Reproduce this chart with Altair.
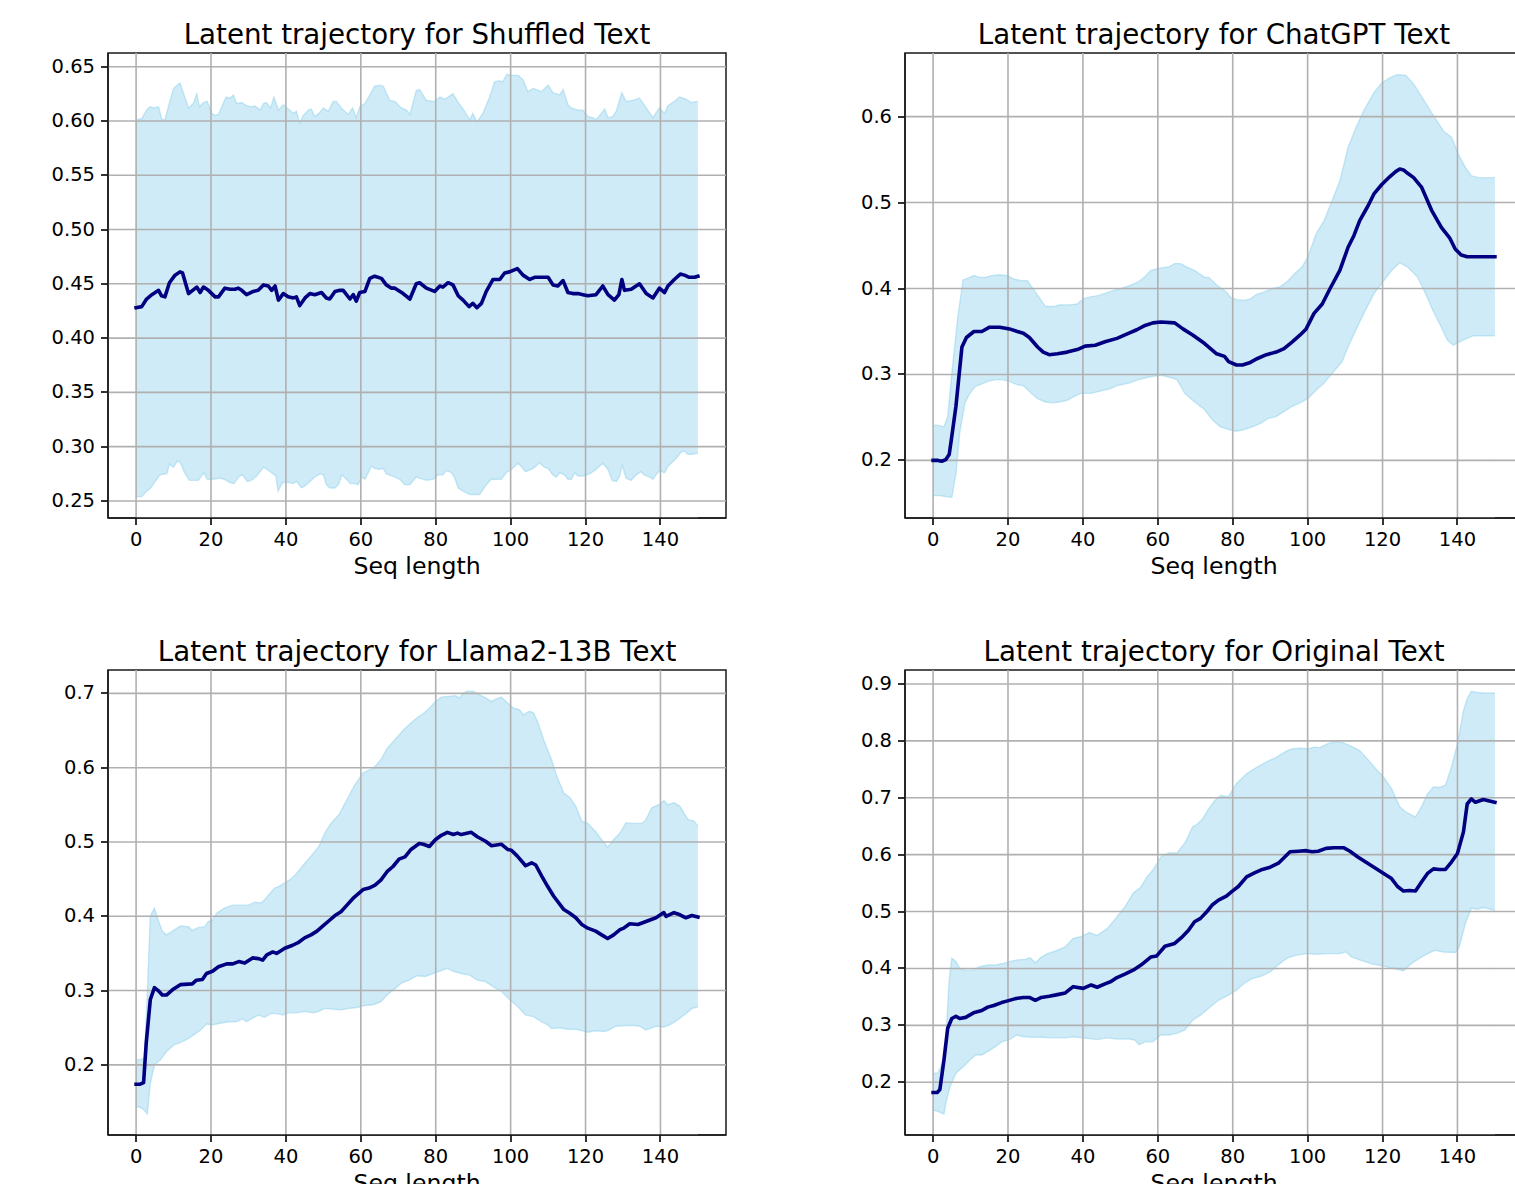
import altair as alt
import pandas as pd

# ---------------------------------------------------------------------------
# Mean latent value and its band (upper / lower) per sequence position.
# Each list holds (seq_length, value) pairs.
# ---------------------------------------------------------------------------

SHUFFLED_MEAN = [
    (0, .428), (1.5, .429), (2.8, .436), (4.2, .440), (6.0, .444), (6.8, .439), (7.7, .438),
    (8.9, .451), (10.4, .458), (11.7, .461), (12.4, .460), (14.0, .441), (16.2, .447), (17.1, .442),
    (18.0, .447), (19.3, .444), (21.1, .438), (22.0, .438), (23.7, .446), (25.1, .445), (26.4, .445),
    (27.3, .446), (28.2, .444), (29.5, .440), (31.3, .443), (32.6, .444), (34.0, .449), (35.3, .448),
    (36.2, .444), (37.1, .448), (38.0, .435), (39.3, .441), (40.6, .438), (42.0, .437), (42.8, .438),
    (43.7, .430), (45.1, .437), (46.4, .441), (47.7, .440), (49.5, .442), (50.8, .437), (51.7, .436),
    (53.1, .443), (54.4, .444), (55.3, .444), (57.1, .436), (58.0, .440), (58.8, .434), (59.7, .442),
    (61.1, .443), (62.4, .455), (63.7, .457), (65.5, .455), (66.8, .449), (68.2, .446), (69.1, .446),
    (71.3, .441), (73.1, .436), (74.8, .450), (75.7, .451), (77.5, .446), (79.7, .443), (81.1, .448),
    (81.9, .447), (83.3, .451), (84.6, .449), (86.0, .439), (87.3, .435), (88.9, .429), (89.9, .432),
    (91.0, .428), (92.2, .432), (93.5, .443), (95.3, .454), (97.1, .454), (98.4, .460), (99.7, .461),
    (101.8, .464), (103.3, .458), (105.1, .454), (106.4, .456), (108.2, .456), (110.0, .456),
    (111.3, .449), (112.6, .448), (114.0, .453), (115.3, .442), (116.6, .441), (118.0, .441),
    (119.3, .440), (120.6, .439), (122.8, .440), (124.6, .448), (126.0, .440), (127.7, .435),
    (128.9, .440), (129.7, .454), (130.4, .444), (132.2, .445), (134.4, .450), (136.2, .441),
    (138.0, .437), (139.7, .446), (141.1, .442), (142.0, .448), (143.7, .454), (145.3, .459),
    (146.4, .458), (147.7, .456), (149.1, .456), (150.0, .457),
]
SHUFFLED_UPPER = [
    (0, .601), (1.5, .602), (2.8, .610), (3.7, .613), (4.6, .612), (6.0, .613), (6.8, .602),
    (7.7, .601), (8.6, .613), (10.0, .630), (11.7, .635), (12.6, .626), (14.0, .612), (15.3, .616),
    (16.2, .625), (16.9, .613), (18.0, .617), (19.0, .618), (20.2, .607), (21.1, .605), (22.0, .606),
    (24.0, .622), (25.1, .621), (26.0, .624), (26.8, .616), (28.2, .617), (29.5, .614), (30.8, .613),
    (31.7, .614), (33.1, .610), (34.0, .616), (34.8, .617), (35.9, .612), (36.8, .622), (38.0, .610),
    (39.3, .615), (40.6, .611), (42.0, .607), (42.8, .609), (43.7, .598), (44.6, .605), (46.0, .610),
    (46.8, .611), (47.7, .604), (49.1, .608), (50.0, .612), (51.3, .609), (52.6, .618), (53.5, .618),
    (54.8, .612), (56.6, .606), (57.8, .612), (58.8, .603), (59.7, .613), (61.1, .616), (62.4, .624),
    (63.7, .632), (65.1, .633), (66.0, .632), (67.7, .619), (69.1, .618), (70.8, .612), (72.2, .610),
    (73.1, .606), (74.8, .628), (75.7, .629), (77.5, .619), (79.7, .618), (81.1, .622), (82.4, .620),
    (84.6, .625), (86.0, .617), (87.7, .609), (89.1, .601), (89.9, .607), (91.0, .599), (92.6, .607),
    (94.4, .622), (95.7, .636), (97.1, .637), (97.9, .636), (99.0, .643), (100.2, .642), (102.0, .642),
    (103.3, .638), (104.6, .627), (106.0, .630), (108.2, .627), (110.0, .633), (111.3, .626),
    (113.1, .624), (114.0, .629), (115.3, .615), (116.2, .612), (118.0, .610), (119.3, .610),
    (120.6, .604), (122.0, .603), (122.8, .601), (124.2, .607), (125.1, .611), (126.0, .603),
    (127.3, .604), (128.2, .609), (129.7, .626), (130.8, .618), (132.6, .619), (134.4, .621),
    (136.2, .612), (138.0, .603), (139.7, .612), (141.1, .607), (142.0, .614), (143.7, .618),
    (145.1, .622), (146.8, .620), (148.2, .617), (150.0, .618),
]
SHUFFLED_LOWER = [
    (0, .254), (1.5, .254), (2.8, .259), (3.9, .262), (5.1, .268), (6.4, .274), (7.7, .275),
    (8.2, .275), (8.9, .284), (10.0, .281), (11.0, .287), (11.9, .285), (12.8, .277), (14.2, .269),
    (15.5, .269), (16.6, .269), (18.1, .276), (19.0, .270), (20.6, .270), (22.4, .271), (23.5, .270),
    (25.1, .267), (26.1, .266), (27.6, .273), (28.4, .274), (29.7, .268), (30.8, .269), (32.2, .273),
    (34.0, .281), (35.0, .279), (36.6, .275), (37.3, .273), (37.9, .259), (39.1, .267), (40.6, .267),
    (42.0, .266), (42.8, .268), (44.2, .262), (45.5, .265), (47.7, .272), (49.1, .275), (50.0, .274),
    (50.8, .265), (51.7, .262), (53.1, .262), (54.0, .265), (55.0, .274), (56.2, .270), (57.2, .266),
    (58.4, .266), (59.3, .265), (60.2, .272), (61.1, .270), (62.0, .276), (62.8, .282), (63.7, .280),
    (64.9, .279), (66.0, .280), (66.8, .275), (69.1, .272), (70.4, .270), (71.7, .265), (73.1, .265),
    (74.8, .272), (75.7, .271), (77.5, .269), (79.3, .270), (80.6, .274), (81.9, .274), (82.8, .278),
    (84.2, .276), (85.1, .271), (86.0, .262), (87.3, .259), (89.1, .256), (91.7, .256), (93.5, .265),
    (94.8, .270), (97.5, .270), (98.8, .276), (100.2, .279), (102.0, .285), (104.0, .277),
    (106.0, .280), (107.7, .285), (109.1, .281), (110.0, .280), (111.3, .274), (112.2, .272),
    (113.1, .276), (114.4, .274), (115.3, .270), (116.2, .270), (117.1, .276), (118.0, .273),
    (119.3, .273), (121.1, .275), (122.8, .279), (124.6, .285), (126.0, .279), (127.1, .269),
    (128.2, .268), (129.1, .273), (129.8, .283), (130.8, .271), (132.2, .269), (133.5, .274),
    (134.8, .277), (135.7, .274), (137.1, .272), (138.0, .270), (138.8, .274), (139.7, .278),
    (141.1, .276), (142.0, .282), (144.2, .289), (145.5, .295), (146.4, .296), (147.3, .293),
    (148.6, .293), (150.0, .294),
]

CHATGPT_MEAN = [
    (0, .200), (1.3, .200), (2.3, .199), (3.4, .201), (4.3, .207), (5.0, .228), (6.1, .263),
    (7.7, .332), (8.9, .343), (10.9, .350), (13.0, .350), (15.1, .355), (17.8, .355), (20.4, .353),
    (22.5, .350), (24.1, .348), (25.7, .343), (27.9, .332), (29.4, .326), (31.0, .323), (33.2, .324),
    (35.8, .326), (38.5, .329), (40.6, .333), (43.3, .334), (45.9, .338), (49.1, .342), (52.3, .348),
    (54.4, .352), (56.6, .357), (58.7, .360), (60.8, .361), (64.5, .360), (66.7, .353), (69.3, .346),
    (72.5, .336), (75.7, .324), (77.8, .321), (78.9, .315), (81.0, .311), (82.6, .311), (84.7, .314),
    (86.3, .318), (89.0, .323), (91.6, .326), (93.7, .330), (95.9, .338), (98.0, .346), (99.6, .353),
    (101.7, .371), (103.9, .382), (106.0, .400), (108.6, .421), (110.8, .448), (112.4, .462),
    (113.9, .479), (116.1, .496), (117.7, .510), (119.8, .521), (121.9, .530), (123.5, .536),
    (124.6, .539), (125.6, .538), (126.7, .534), (128.3, .529), (130.4, .518), (133.1, .491),
    (135.7, .471), (137.9, .459), (139.4, .446), (141.0, .439), (142.6, .437), (144.8, .437),
    (150.0, .437),
]
CHATGPT_UPPER = [
    (0, .241), (1.3, .241), (2.9, .239), (3.9, .251), (5.0, .301), (6.6, .367), (8.0, .410),
    (9.8, .413), (10.9, .415), (12.4, .413), (14.0, .413), (15.6, .415), (17.8, .416), (19.9, .415),
    (21.5, .411), (23.6, .409), (25.2, .409), (27.3, .396), (30.0, .379), (32.1, .379), (33.7, .381),
    (36.4, .381), (38.5, .382), (40.1, .388), (41.7, .390), (44.3, .392), (47.0, .396), (50.2, .400),
    (52.8, .404), (54.9, .408), (56.6, .414), (58.1, .421), (60.8, .424), (62.9, .425), (64.5, .429),
    (66.1, .429), (67.7, .425), (69.8, .421), (72.5, .413), (73.6, .413), (75.7, .404), (78.3, .396),
    (79.4, .390), (81.0, .387), (83.1, .386), (84.7, .388), (86.3, .393), (88.4, .396), (90.6, .400),
    (92.7, .402), (94.8, .409), (96.4, .417), (98.5, .425), (100.1, .437), (102.3, .464),
    (104.4, .479), (106.5, .502), (108.6, .525), (110.8, .564), (112.9, .587), (115.0, .607),
    (117.7, .628), (119.8, .639), (121.9, .645), (124.0, .649), (126.2, .648), (128.3, .638),
    (130.9, .620), (133.6, .601), (136.3, .583), (138.4, .576), (140.5, .554), (142.1, .541),
    (143.7, .531), (145.8, .529), (150.0, .529),
]
CHATGPT_LOWER = [
    (0, .159), (1.8, .159), (3.4, .158), (5.0, .157), (6.1, .185), (7.1, .232), (8.5, .267),
    (9.8, .278), (11.2, .286), (13.0, .289), (14.6, .292), (16.7, .294), (18.3, .294), (20.4, .292),
    (22.5, .288), (24.1, .287), (26.3, .278), (27.9, .272), (30.0, .268), (32.1, .267), (33.7, .268),
    (35.8, .270), (37.9, .275), (39.5, .278), (42.2, .278), (44.9, .281), (47.0, .283), (49.1, .287),
    (52.3, .290), (54.9, .294), (57.6, .297), (60.8, .299), (62.9, .297), (65.1, .294), (67.2, .278),
    (69.3, .270), (72.5, .259), (74.6, .247), (76.7, .239), (78.9, .236), (81.0, .234), (83.1, .236),
    (85.2, .239), (87.4, .243), (89.5, .249), (91.6, .251), (93.7, .257), (95.9, .263), (98.0, .267),
    (100.1, .272), (102.3, .282), (104.4, .290), (106.5, .301), (109.2, .315), (110.8, .332),
    (112.9, .352), (115.0, .371), (117.7, .394), (120.3, .409), (122.4, .421), (124.6, .430),
    (126.7, .425), (129.4, .413), (131.5, .394), (133.6, .373), (135.7, .355), (137.3, .340),
    (138.9, .334), (140.5, .338), (142.6, .342), (144.2, .345), (150.0, .345),
]

LLAMA_MEAN = [
    (0, .174), (1.1, .174), (2.0, .176), (2.7, .229), (3.8, .288), (4.9, .304), (5.9, .300),
    (7.0, .294), (8.1, .294), (9.7, .301), (11.8, .308), (15.0, .309), (16.1, .314), (17.7, .315),
    (18.8, .323), (20.4, .326), (22.0, .332), (24.2, .336), (25.8, .336), (27.4, .339), (29.0, .337),
    (31.1, .344), (32.7, .343), (33.8, .341), (34.9, .348), (36.5, .352), (37.5, .350), (39.7, .357),
    (41.8, .361), (43.4, .365), (45.0, .371), (46.7, .375), (48.3, .380), (49.9, .387), (51.5, .394),
    (53.1, .401), (54.7, .406), (56.3, .415), (57.9, .424), (60.6, .436), (62.2, .438), (63.8, .442),
    (65.4, .449), (67.0, .460), (68.6, .467), (70.2, .477), (71.8, .480), (73.4, .490), (75.6, .498),
    (76.7, .497), (78.3, .494), (79.9, .503), (81.5, .509), (83.1, .513), (84.7, .510), (85.8, .512),
    (86.8, .510), (89.5, .513), (91.1, .507), (93.3, .501), (94.9, .495), (97.5, .497), (99.2, .490),
    (100.2, .489), (101.8, .481), (104.0, .468), (105.6, .472), (106.7, .469), (108.3, .454),
    (109.9, .440), (111.5, .427), (114.2, .409), (115.8, .404), (117.4, .398), (119.0, .389),
    (120.6, .384), (122.7, .380), (124.3, .375), (125.9, .370), (127.5, .375), (129.2, .382),
    (130.2, .384), (131.8, .390), (134.0, .389), (135.6, .392), (137.2, .395), (138.8, .398),
    (140.9, .405), (141.5, .400), (143.6, .405), (145.2, .402), (146.8, .398), (148.4, .401),
    (150.0, .399),
]
LLAMA_UPPER = [
    (0, .207), (1.1, .207), (2.2, .209), (3.0, .297), (3.8, .400), (4.9, .411), (5.9, .395),
    (7.0, .380), (8.1, .375), (9.7, .380), (11.8, .387), (14.0, .386), (15.0, .381), (16.7, .385),
    (18.3, .386), (19.3, .393), (20.4, .395), (21.5, .404), (23.6, .411), (25.8, .415), (27.9, .415),
    (30.0, .415), (31.7, .419), (33.3, .418), (34.3, .422), (35.4, .429), (37.0, .438), (38.1, .440),
    (39.7, .445), (41.3, .450), (42.9, .458), (45.0, .471), (46.7, .481), (48.8, .494), (50.4, .512),
    (52.0, .525), (54.2, .537), (56.3, .557), (58.4, .577), (60.6, .593), (63.3, .599), (65.4, .611),
    (67.0, .626), (68.6, .635), (70.2, .644), (71.8, .653), (73.4, .660), (75.0, .667), (76.7, .673),
    (78.3, .680), (79.9, .689), (81.5, .695), (83.6, .696), (85.2, .697), (86.3, .694), (87.4, .700),
    (88.4, .703), (90.0, .703), (91.7, .698), (93.3, .694), (94.9, .689), (95.9, .692), (97.5, .695),
    (99.2, .687), (100.8, .680), (102.4, .678), (103.4, .671), (105.0, .676), (106.1, .674),
    (107.2, .662), (108.8, .638), (110.9, .611), (112.5, .586), (114.2, .566), (115.8, .560),
    (117.4, .548), (119.0, .528), (120.6, .525), (122.7, .514), (124.3, .503), (125.9, .493),
    (127.5, .503), (129.2, .512), (130.8, .526), (132.9, .525), (135.1, .525), (136.1, .530),
    (137.7, .546), (139.9, .551), (140.9, .556), (142.0, .550), (143.6, .553), (145.2, .548),
    (146.3, .539), (147.4, .530), (149.0, .528), (150.0, .521),
]
LLAMA_LOWER = [
    (0, .144), (1.1, .143), (2.2, .139), (3.0, .134), (3.8, .175), (4.9, .200), (6.5, .207),
    (8.1, .218), (10.2, .227), (11.8, .230), (13.4, .234), (15.0, .239), (17.2, .247), (18.8, .255),
    (20.4, .254), (22.5, .256), (24.7, .258), (26.8, .258), (28.4, .262), (29.5, .258), (31.1, .263),
    (32.7, .267), (34.3, .264), (35.9, .269), (37.5, .269), (39.2, .267), (40.8, .270), (42.9, .270),
    (45.0, .272), (47.2, .270), (48.8, .272), (50.4, .276), (52.5, .275), (54.7, .274), (56.8, .276),
    (59.0, .277), (61.1, .280), (63.3, .281), (65.4, .285), (67.0, .294), (69.2, .303), (70.8, .310),
    (72.9, .314), (75.0, .320), (77.2, .319), (79.3, .323), (80.9, .326), (83.1, .330), (84.7, .326),
    (86.8, .323), (89.0, .321), (91.1, .314), (93.3, .312), (95.4, .305), (97.5, .299), (99.7, .288),
    (101.8, .279), (104.0, .267), (106.1, .265), (108.3, .258), (109.9, .254), (110.9, .249),
    (113.1, .250), (115.2, .248), (117.4, .248), (119.0, .246), (120.6, .244), (122.7, .246),
    (124.9, .245), (125.9, .246), (128.1, .252), (130.8, .253), (132.9, .253), (134.5, .252),
    (136.1, .247), (138.8, .252), (140.9, .251), (142.5, .254), (144.7, .261), (146.8, .269),
    (148.4, .276), (150.0, .278),
]

ORIGINAL_MEAN = [
    (0, .182), (1.1, .182), (1.8, .187), (2.9, .239), (3.9, .295), (5.0, .312), (6.1, .316),
    (7.1, .312), (8.7, .314), (10.8, .322), (13.0, .326), (14.6, .332), (16.2, .335), (18.3, .340),
    (19.9, .343), (22.0, .347), (24.1, .349), (25.7, .349), (27.3, .344), (28.9, .349), (31.0, .351),
    (33.2, .354), (35.3, .357), (37.4, .368), (40.1, .365), (42.2, .371), (43.8, .367), (45.9, .373),
    (47.5, .377), (49.1, .384), (51.2, .390), (53.4, .397), (55.5, .406), (58.1, .420), (59.7, .422),
    (61.9, .439), (64.5, .444), (66.6, .456), (68.2, .467), (69.8, .482), (71.4, .488), (73.0, .499),
    (74.6, .512), (76.2, .520), (78.3, .527), (79.9, .536), (81.5, .544), (83.7, .561), (85.8, .568),
    (87.9, .574), (90.0, .578), (92.2, .585), (95.3, .605), (97.5, .606), (99.6, .607), (101.2, .605),
    (102.8, .606), (104.9, .611), (107.0, .612), (109.7, .612), (111.3, .606), (113.4, .596),
    (115.5, .587), (117.7, .578), (120.3, .567), (122.4, .558), (124.0, .544), (125.6, .536),
    (127.2, .537), (128.8, .536), (130.4, .552), (132.0, .567), (133.6, .575), (135.2, .574),
    (136.8, .574), (138.4, .587), (140.0, .602), (141.6, .640), (142.6, .689), (143.7, .698),
    (144.8, .692), (146.9, .697), (150.0, .692),
]
ORIGINAL_UPPER = [
    (0, .216), (1.3, .216), (2.1, .228), (3.2, .251), (4.3, .380), (5.0, .418), (6.1, .412),
    (7.1, .400), (8.7, .397), (10.8, .397), (12.4, .403), (14.6, .406), (16.7, .406), (18.8, .409),
    (20.4, .412), (22.5, .415), (24.7, .416), (25.9, .419), (27.3, .410), (28.9, .420), (30.5, .426),
    (33.2, .432), (35.3, .438), (37.4, .453), (39.5, .456), (41.7, .463), (43.8, .458), (46.5, .470),
    (49.1, .491), (51.2, .508), (53.4, .532), (55.5, .543), (57.1, .561), (58.7, .573), (60.8, .596),
    (62.9, .603), (65.1, .603), (67.2, .620), (69.3, .649), (70.4, .653), (72.0, .663), (73.6, .681),
    (75.2, .695), (76.8, .704), (78.9, .702), (81.0, .725), (83.7, .742), (86.3, .753), (89.0, .763),
    (91.6, .771), (94.3, .782), (95.9, .786), (98.0, .787), (100.1, .786), (101.7, .789),
    (103.3, .788), (105.4, .795), (107.6, .799), (109.7, .796), (111.8, .790), (113.9, .783),
    (116.1, .767), (118.2, .751), (120.3, .736), (122.4, .716), (124.6, .684), (126.2, .675),
    (128.8, .666), (130.4, .684), (132.0, .707), (133.6, .719), (135.2, .718), (136.8, .722),
    (138.4, .754), (140.0, .795), (141.6, .853), (142.6, .874), (143.7, .887), (145.3, .885),
    (146.9, .884), (150.0, .884),
]
ORIGINAL_LOWER = [
    (0, .151), (1.3, .149), (2.9, .144), (3.4, .163), (4.5, .192), (6.1, .216), (8.2, .228),
    (9.8, .239), (11.4, .248), (13.0, .248), (15.1, .256), (16.7, .263), (18.3, .271), (20.4, .275),
    (22.3, .283), (24.1, .280), (26.3, .279), (28.9, .279), (32.1, .278), (35.3, .278), (37.4, .280),
    (39.5, .278), (41.7, .277), (43.8, .275), (46.5, .278), (49.1, .276), (52.3, .276), (53.9, .274),
    (55.0, .266), (56.6, .271), (58.7, .271), (60.8, .283), (62.9, .283), (65.1, .286), (67.2, .292),
    (69.3, .309), (71.4, .318), (73.6, .330), (76.2, .344), (78.9, .353), (81.0, .362), (83.1, .374),
    (85.2, .382), (87.9, .387), (90.0, .394), (91.6, .403), (93.2, .412), (94.8, .419), (96.9, .423),
    (99.6, .426), (102.3, .425), (105.4, .426), (108.6, .426), (110.2, .429), (111.8, .420),
    (113.9, .415), (117.1, .408), (120.3, .404), (123.0, .400), (125.6, .396), (127.8, .409),
    (129.9, .418), (132.0, .426), (134.1, .432), (136.3, .429), (139.5, .428), (140.5, .438),
    (142.1, .479), (143.7, .506), (145.3, .504), (146.9, .507), (150.0, .502),
]

X_TICKS = [0, 20, 40, 60, 80, 100, 120, 140]
X_DOMAIN = [-7.5, 157.5]

SHUFFLED_Y_TICKS = [0.25, 0.30, 0.35, 0.40, 0.45, 0.50, 0.55, 0.60, 0.65]
CHATGPT_Y_TICKS = [0.2, 0.3, 0.4, 0.5, 0.6]
LLAMA_Y_TICKS = [0.2, 0.3, 0.4, 0.5, 0.6, 0.7]
ORIGINAL_Y_TICKS = [0.2, 0.3, 0.4, 0.5, 0.6, 0.7, 0.8, 0.9]

PANEL_W = 618
PANEL_H = 465

# canvas size and where the first plot area starts on it
CANVAS_W, CANVAS_H = 1515, 1184
ORIGIN_X, ORIGIN_Y = 108, 53

BAND_FILL = "#cfebf7"      # skyblue at 40 % over white
BAND_EDGE = "#87ceeb"
LINE_COLOR = "#000080"
GRID_COLOR = "#b0b0b0"
SPINE_COLOR = "#1a1a1a"


def frame(points):
    return pd.DataFrame(points, columns=["x", "y"])


def panel(title, mean, upper, lower, y_ticks, y_domain, y_format):
    xs = alt.Scale(domain=X_DOMAIN, nice=False, zero=False)
    ys = alt.Scale(domain=y_domain, nice=False, zero=False)
    x_axis = alt.Axis(values=X_TICKS, title="Seq length", format="d", zindex=2)
    y_axis = alt.Axis(values=y_ticks, title=None, format=y_format, zindex=2)
    X = alt.X("x:Q", scale=xs, axis=x_axis)
    Y = alt.Y("y:Q", scale=ys, axis=y_axis)

    # band: fill from the upper edge down, then blank out below the lower edge
    band_top = alt.Chart(frame(upper)).mark_area(
        color=BAND_FILL, opacity=1, clip=True
    ).encode(x=X, y=Y, y2=alt.value("height"))
    band_cut = alt.Chart(frame(lower)).mark_area(
        color="white", opacity=1, clip=True
    ).encode(x=X, y=Y, y2=alt.value("height"))
    edge_top = alt.Chart(frame(upper)).mark_line(
        color=BAND_EDGE, opacity=0.45, strokeWidth=1.4, clip=True
    ).encode(x=X, y=Y)
    edge_bot = alt.Chart(frame(lower)).mark_line(
        color=BAND_EDGE, opacity=0.45, strokeWidth=1.4, clip=True
    ).encode(x=X, y=Y)

    grid_x = alt.Chart(pd.DataFrame({"x": X_TICKS})).mark_rule(
        color=GRID_COLOR, strokeWidth=1.6
    ).encode(x=X)
    grid_y = alt.Chart(pd.DataFrame({"y": y_ticks})).mark_rule(
        color=GRID_COLOR, strokeWidth=1.6
    ).encode(y=Y)

    mean_line = alt.Chart(frame(mean)).mark_line(
        color=LINE_COLOR, strokeWidth=3.6, strokeJoin="round", strokeCap="square", clip=True
    ).encode(x=X, y=Y)

    return alt.layer(
        band_top, band_cut, edge_top, edge_bot, grid_x, grid_y, mean_line
    ).properties(width=PANEL_W, height=PANEL_H, title=title)


p1 = panel("Latent trajectory for Shuffled Text", SHUFFLED_MEAN, SHUFFLED_UPPER,
           SHUFFLED_LOWER, SHUFFLED_Y_TICKS, [0.2343, 0.6626], ".2f")
p2 = panel("Latent trajectory for ChatGPT Text", CHATGPT_MEAN, CHATGPT_UPPER,
           CHATGPT_LOWER, CHATGPT_Y_TICKS, [0.133, 0.674], ".1f")
p3 = panel("Latent trajectory for Llama2-13B Text", LLAMA_MEAN, LLAMA_UPPER,
           LLAMA_LOWER, LLAMA_Y_TICKS, [0.1056, 0.7315], ".1f")
p4 = panel("Latent trajectory for Original Text", ORIGINAL_MEAN, ORIGINAL_UPPER,
           ORIGINAL_LOWER, ORIGINAL_Y_TICKS, [0.1073, 0.9245], ".1f")

chart = alt.concat(
    p1, p2, p3, p4, columns=2, spacing={"row": 152, "column": 179},
    bounds="flush", align="each",
).properties(
    # fixed canvas: the grid starts at the padding offset, anything past the
    # canvas edge is cut off
    autosize=alt.AutoSizeParams(type="none"),
    padding={"left": ORIGIN_X, "top": ORIGIN_Y,
             "right": CANVAS_W - ORIGIN_X, "bottom": CANVAS_H - ORIGIN_Y},
    background="white",
).configure_view(
    stroke=SPINE_COLOR, strokeWidth=1.5
).configure_axis(
    labelFont="DejaVu Sans", labelFontSize=19.5, labelColor="black",
    tickColor="black", tickSize=7, tickWidth=1.6,
    domain=True, domainColor=SPINE_COLOR, domainWidth=1.5, translate=0,
    titleFont="DejaVu Sans", titleFontSize=23.6, titleFontWeight="normal", titleColor="black",
    labelFlush=False, labelOverlap=False, grid=False,
).configure_axisX(
    labelPadding=5.5, titlePadding=6
).configure_axisY(
    labelPadding=6
).configure_title(
    font="DejaVu Sans", fontSize=27.7, fontWeight="normal", color="black",
    anchor="middle", frame="group", baseline="alphabetic", offset=3,
)

chart.save("out.html", embed_options={"renderer": "svg", "actions": False})
